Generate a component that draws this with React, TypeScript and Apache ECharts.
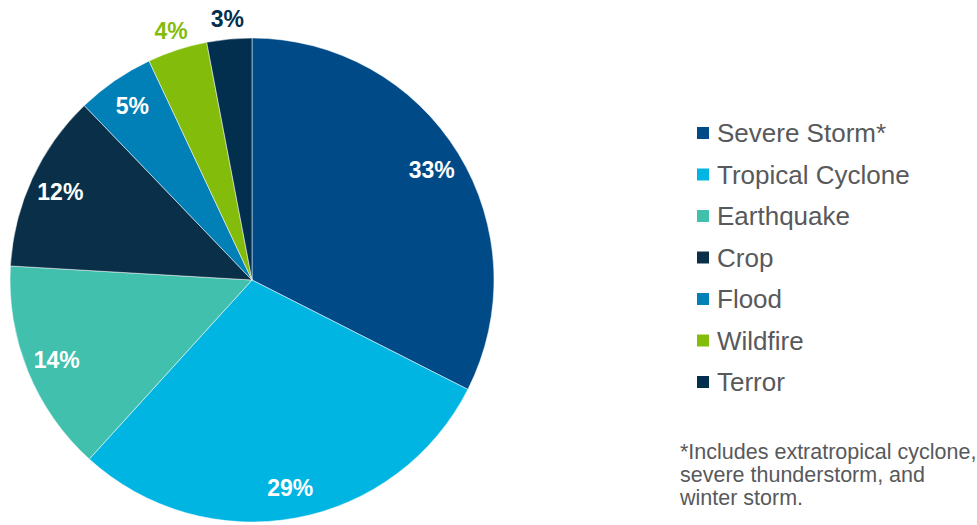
import React, { useEffect, useRef } from "react";
import * as echarts from "echarts";

const categories = ["Severe Storm*", "Tropical Cyclone", "Earthquake", "Crop", "Flood", "Wildfire", "Terror"];
const values = [32.5, 29.3, 14.2, 11.9, 5.2, 4.0, 3.0];
const colors = ["#004B87", "#00B5E2", "#41C1AD", "#0A3049", "#0080B7", "#84BC0C", "#032F4F"];
const outsideLabel = [false, false, false, false, false, true, true];
const footnote = "*Includes extratropical cyclone,\nsevere thunderstorm, and\nwinter storm.";

const FONT = "'Liberation Sans', Arial, sans-serif";

export default function App() {
  const ref = useRef<HTMLDivElement>(null);
  useEffect(() => {
    if (!ref.current) return;
    const chart = echarts.init(ref.current, undefined, { renderer: "svg" });
    const center = [252, 280];
    const R = 242;
    const base = categories.map((name, i) => ({ name, value: values[i] }));
    const fmt = (p: any) => `${Math.round(p.value)}%`;
    chart.setOption({
      animation: false,
      backgroundColor: "#ffffff",
      legend: {
        orient: "vertical",
        left: 695,
        top: 120,
        padding: 0,
        icon: "rect",
        itemWidth: 14,
        itemHeight: 14,
        itemGap: 15.5,
        selectedMode: false,
        data: categories.map((name, i) => ({ name, itemStyle: { color: colors[i] } })),
        textStyle: { fontFamily: FONT, fontSize: 26, color: "#58595B", padding: [0, 0, 0, 2] },
      },
      graphic: [
        {
          type: "text",
          left: 680,
          top: 440,
          style: {
            text: footnote,
            font: `21.5px ${FONT}`,
            fill: "#58595B",
            lineHeight: 23,
          },
        },
      ],
      series: [
        {
          type: "pie",
          center,
          radius: [0, R],
          startAngle: 90,
          clockwise: true,
          silent: true,
          label: { show: false },
          labelLine: { show: false },
          itemStyle: { borderColor: "#ffffff", borderWidth: 0.5 },
          data: base.map((d, i) => ({ ...d, itemStyle: { color: colors[i] } })),
        },
        {
          type: "pie",
          center,
          radius: [0, 416],
          startAngle: 90,
          clockwise: true,
          silent: true,
          legendHoverLink: false,
          itemStyle: { color: "rgba(0,0,0,0)" },
          labelLine: { show: false },
          data: base.map((d, i) => ({
            ...d,
            itemStyle: { color: "rgba(0,0,0,0)" },
            label: {
              show: !outsideLabel[i],
              position: "inside",
              formatter: fmt,
              color: "#ffffff",
              fontFamily: FONT,
              fontWeight: "bold",
              fontSize: 23,
            },
          })),
        },
        {
          type: "pie",
          center,
          radius: [0, 518],
          startAngle: 90,
          clockwise: true,
          silent: true,
          legendHoverLink: false,
          itemStyle: { color: "rgba(0,0,0,0)" },
          labelLine: { show: false },
          data: base.map((d, i) => ({
            ...d,
            itemStyle: { color: "rgba(0,0,0,0)" },
            label: {
              show: outsideLabel[i],
              position: "inside",
              formatter: fmt,
              color: colors[i],
              fontFamily: FONT,
              fontWeight: "bold",
              fontSize: 23,
            },
          })),
        },
      ],
    });
    return () => chart.dispose();
  }, []);
  return <div ref={ref} style={{ position: "fixed", left: 0, top: 0, width: 977, height: 525 }} />;
}
